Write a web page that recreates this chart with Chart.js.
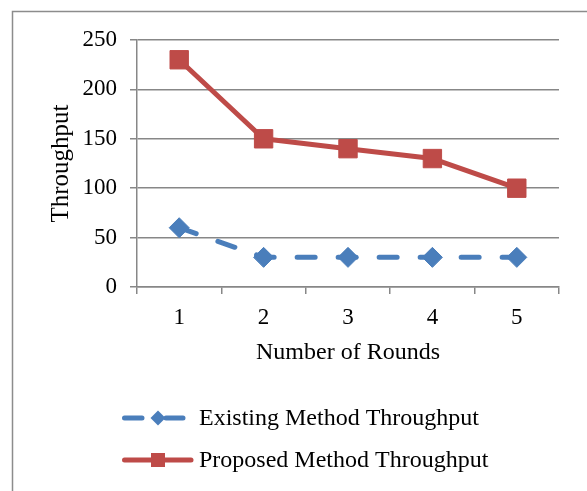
<!DOCTYPE html>
<html>
<head>
<meta charset="utf-8">
<script src="https://cdn.jsdelivr.net/npm/chart.js@4/dist/chart.umd.min.js"></script>
<style>
  html, body { margin: 0; padding: 0; background: #ffffff; }
  #wrap { width: 587px; height: 491px; position: relative; }
</style>
</head>
<body>
<div id="wrap"><canvas id="c" width="587" height="491"></canvas></div>
<script>
// Round numbers on the x axis
const categories = ['1', '2', '3', '4', '5'];
// Throughput per round
const existingThroughput = [60, 30, 30, 30, 30];
const proposedThroughput = [230, 150, 140, 130, 100];
// Value axis ticks
const yTicks = [0, 50, 100, 150, 200, 250];

const seriesNames = ['Existing Method Throughput', 'Proposed Method Throughput'];

const FONT = '"Liberation Serif", "Times New Roman", serif';
const GRID = '#878787';
const BLUE = '#4A7EBB';
const RED = '#BE4B48';

// Outer frame of the chart
const framePlugin = {
  id: 'frame',
  beforeDraw(chart) {
    const ctx = chart.ctx;
    ctx.save();
    ctx.fillStyle = '#ffffff';
    ctx.fillRect(0, 0, chart.width, chart.height);
    ctx.strokeStyle = '#8c8c8c';
    ctx.lineWidth = 1.5;
    ctx.strokeRect(12.5, 11.5, 800, 800);
    ctx.restore();
  }
};

// Stacked legend below the axis title
const legendPlugin = {
  id: 'stackedLegend',
  afterDraw(chart) {
    const ctx = chart.ctx;
    const rows = [418, 460];
    ctx.save();
    chart.data.datasets.forEach((ds, i) => {
      const y = rows[i];
      ctx.strokeStyle = ds.borderColor;
      ctx.fillStyle = ds.pointBackgroundColor;
      ctx.lineWidth = 5;
      ctx.lineCap = 'round';
      ctx.beginPath();
      if (ds.borderDash && ds.borderDash.length) {
        ctx.moveTo(124.5, y); ctx.lineTo(142, y);
        ctx.moveTo(166, y); ctx.lineTo(183, y);
      } else {
        ctx.moveTo(124.5, y); ctx.lineTo(191, y);
      }
      ctx.stroke();
      ctx.beginPath();
      if (ds.pointStyle === 'rectRot') {
        ctx.moveTo(158, y - 7.5); ctx.lineTo(165.5, y); ctx.lineTo(158, y + 7.5); ctx.lineTo(150.5, y);
        ctx.closePath();
      } else {
        ctx.rect(151, y - 7, 14, 14);
      }
      ctx.fill();
      ctx.fillStyle = '#000000';
      ctx.font = '24px ' + FONT;
      ctx.textBaseline = 'middle';
      ctx.textAlign = 'left';
      ctx.fillText(ds.label, 199, y + 1);
    });
    ctx.restore();
  }
};

new Chart(document.getElementById('c'), {
  type: 'line',
  data: {
    labels: categories,
    datasets: [
      {
        label: seriesNames[0],
        data: existingThroughput,
        borderColor: BLUE,
        backgroundColor: BLUE,
        borderWidth: 5,
        borderDash: [18, 23],
        borderCapStyle: 'round',
        tension: 0,
        pointStyle: 'rectRot',
        pointRadius: 10,
        pointHoverRadius: 10,
        pointBackgroundColor: BLUE,
        pointBorderColor: BLUE,
        pointBorderWidth: 1
      },
      {
        label: seriesNames[1],
        data: proposedThroughput,
        borderColor: RED,
        backgroundColor: RED,
        borderWidth: 5,
        borderCapStyle: 'round',
        borderJoinStyle: 'round',
        tension: 0,
        pointStyle: 'rect',
        pointRadius: 13,
        pointHoverRadius: 13,
        pointBackgroundColor: RED,
        pointBorderColor: RED,
        pointBorderWidth: 1
      }
    ]
  },
  options: {
    responsive: false,
    animation: false,
    devicePixelRatio: 1,
    layout: { padding: { left: 0, right: 28, top: 40, bottom: 120 } },
    plugins: {
      legend: { display: false },
      tooltip: { enabled: false }
    },
    scales: {
      x: {
        type: 'category',
        offset: true,
        grid: {
          offset: true,
          drawOnChartArea: false,
          drawTicks: true,
          tickLength: 7,
          color: GRID,
          lineWidth: 1.5
        },
        border: { display: true, color: GRID, width: 1.5 },
        ticks: {
          color: '#000000',
          font: { family: FONT, size: 23 },
          padding: 10,
          maxRotation: 0
        },
        title: {
          display: true,
          text: 'Number of Rounds',
          color: '#000000',
          font: { family: FONT, size: 24 },
          padding: { top: 4, bottom: 4 }
        },
        afterFit(scale) { scale.height = 84; }
      },
      y: {
        min: 0,
        max: 250,
        afterBuildTicks(scale) { scale.ticks = yTicks.map(v => ({ value: v })); },
        grid: {
          drawTicks: true,
          tickLength: 7,
          color: GRID,
          lineWidth: 1.5
        },
        border: { display: true, color: GRID, width: 1.5 },
        ticks: {
          color: '#000000',
          font: { family: FONT, size: 23 },
          padding: 13
        },
        title: {
          display: true,
          text: 'Throughput',
          color: '#000000',
          font: { family: FONT, size: 25 },
          padding: { top: 46, bottom: 46 }
        },
        afterFit(scale) { scale.width = 137; }
      }
    }
  },
  plugins: [framePlugin, legendPlugin]
});
</script>
</body>
</html>
